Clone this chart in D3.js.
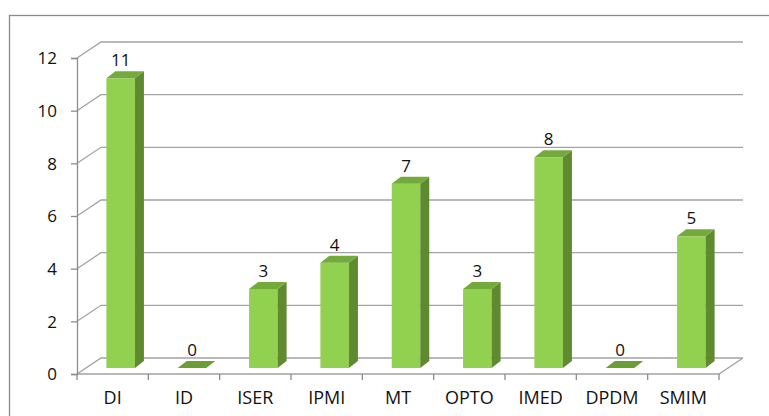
<!DOCTYPE html>
<html><head><meta charset="utf-8">
<script src="https://cdn.jsdelivr.net/npm/d3@7"></script>
<style>html,body{margin:0;padding:0;background:#fff;overflow:hidden}</style>
</head><body>
<svg id="chart" width="769" height="416"></svg>
<script>
const categories = ["DI","ID","ISER","IPMI","MT","OPTO","IMED","DPDM","SMIM"];
const values = [11,0,3,4,7,3,8,0,5];
const yTicks = [0,2,4,6,8,10,12];

const svg = d3.select("#chart");
const font = "'Open Sans', 'Liberation Sans', sans-serif";

// plot geometry (front plane)
const x0 = 77, x1 = 719, yBottom = 374, yTop = 58;
const depthX = 24, depthY = -16;      // wall depth
const barDX = 8, barDY = -6;           // bar front plane offset
const barSideX = 9, barSideY = -7;     // bar depth

const x = d3.scaleBand().domain(categories).range([x0, x1]).paddingInner(0).paddingOuter(0);
const y = d3.scaleLinear().domain([0, 12]).range([yBottom, yTop]);

// outer frame
svg.append("rect").attr("x", 9.5).attr("y", 15.5).attr("width", 800).attr("height", 500)
  .attr("fill", "none").attr("stroke", "#8a8a8a").attr("stroke-width", 1.3);

const grid = svg.append("g").attr("stroke", "#a3a3a3").attr("stroke-width", 1.3).attr("fill", "none");
yTicks.forEach(t => {
  const yy = y(t);
  grid.append("path").attr("d", `M${x0},${yy}L${x0+depthX},${yy+depthY}L${x1+depthX},${yy+depthY}`);
});
grid.append("path").attr("d", `M${x0},${yBottom}L${x1},${yBottom}L${x1+depthX},${yBottom+depthY}`);

// y axis
const yAxis = svg.append("g").attr("transform", `translate(${x0},0)`)
  .call(d3.axisLeft(y).tickValues(yTicks).tickSize(6).tickPadding(6));
yAxis.select(".domain").attr("stroke", "#8c8c8c").attr("stroke-width", 1.3);
yAxis.selectAll(".tick line").attr("stroke", "#8c8c8c").attr("stroke-width", 1.3);
yAxis.selectAll(".tick text").attr("font-family", font).attr("font-size", 17).attr("fill", "#111")
  .attr("x", -20).attr("dy", "0.35em");

// x axis ticks at band boundaries
const xAxisG = svg.append("g").attr("stroke", "#8c8c8c").attr("stroke-width", 1.3);
const bounds = categories.map(c => x(c)).concat([x1]);
bounds.forEach(b => {
  xAxisG.append("line").attr("x1", b).attr("x2", b).attr("y1", yBottom).attr("y2", yBottom + 6);
});
svg.append("g").selectAll("text").data(categories).join("text")
  .attr("x", d => x(d) + x.bandwidth() / 2)
  .attr("y", 404)
  .attr("text-anchor", "middle")
  .attr("font-family", font).attr("font-size", 18).attr("fill", "#111")
  .text(d => d);

// bars
const bw = x.bandwidth() * 0.4;
const bars = svg.append("g");
categories.forEach((c, i) => {
  const v = values[i];
  const fx = x(c) + (x.bandwidth() - bw) / 2 + barDX;
  const fyTop = y(v) + barDY;
  const fyBot = y(0) + barDY;
  const g = bars.append("g");
  if (v > 0) {
    g.append("rect").attr("x", fx).attr("y", fyTop).attr("width", bw).attr("height", fyBot - fyTop)
      .attr("fill", "#92d050");
    g.append("path").attr("d",
      `M${fx+bw},${fyTop}L${fx+bw+barSideX},${fyTop+barSideY}L${fx+bw+barSideX},${fyBot+barSideY}L${fx+bw},${fyBot}Z`)
      .attr("fill", "#5f8a30");
  }
  g.append("path").attr("d",
    `M${fx},${fyTop}L${fx+barSideX},${fyTop+barSideY}L${fx+bw+barSideX},${fyTop+barSideY}L${fx+bw},${fyTop}Z`)
    .attr("fill", v > 0 ? "#74aa3c" : "#6b9f36");
  g.append("text").attr("x", fx + bw / 2).attr("y", fyTop - 12)
    .attr("text-anchor", "middle")
    .attr("font-family", font).attr("font-size", 17).attr("fill", "#111")
    .text(v);
});
</script>
</body></html>
